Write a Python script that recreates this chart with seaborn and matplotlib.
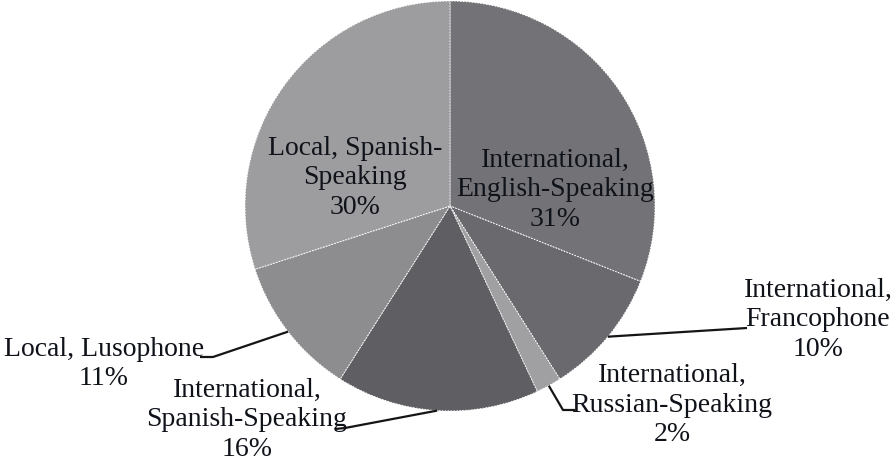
"""
plot.py

pie chart of participants by language group
"""

import numpy as np
import matplotlib
matplotlib.use("Agg")
import matplotlib.pyplot as plt
import seaborn as sns

# data
groups = ["International,\nEnglish-Speaking", "International,\nFrancophone",
          "International,\nRussian-Speaking", "International,\nSpanish-Speaking",
          "Local, Lusophone", "Local, Spanish-\nSpeaking"]
shares = [31, 10, 2, 16, 11, 30]
colors = ["#737377", "#6a6a6e", "#a0a0a3", "#5f5f63", "#8d8d90", "#9d9d9f"]

sns.set_theme(style="white")
plt.rcParams["font.family"] = ["Liberation Serif", "DejaVu Serif"]

fig = plt.figure(figsize=(8.96, 4.66), dpi=100)
ax = fig.add_axes([0, 0, 1, 1])

wedges, _ = ax.pie(shares, colors=colors, startangle=90, counterclock=False,
                   radius=1, wedgeprops=dict(edgecolor="white", linewidth=0.7,
                                             linestyle=(0, (1.5, 1.5))))

# pixel-based layout: pie centre at (450, 206), radius 205 px
R = 205.0
def px(x, y):
    return (x - 450) / R, (206 - y) / R

ax.set_xlim(-450 / R, (896 - 450) / R)
ax.set_ylim((206 - 466) / R, 206 / R)
ax.set_aspect("auto")
ax.axis("off")

# label positions (text centres, pixels)
label_pos = [(555, 190), (818, 320), (672, 405), (247, 420), (104, 364), (355, 178)]
# leader lines: extra points after the wedge edge (pixels), None = no leader
leaders = [None, [(747, 328)], [(563, 410), (575, 410)],
           [(345, 428), (335, 429)], [(213, 357), (200, 357)], None]

for w, name, val, pos, lead in zip(wedges, groups, shares, label_pos, leaders):
    tx, ty = px(*pos)
    ax.text(tx, ty, f"{name}\n{val}%", ha="center", va="center",
            fontsize=20, color="#10121a", linespacing=1.24, multialignment="center")
    if lead is not None:
        mid = np.deg2rad((w.theta1 + w.theta2) / 2)
        xs = [np.cos(mid)] + [px(*p)[0] for p in lead]
        ys = [np.sin(mid)] + [px(*p)[1] for p in lead]
        ax.plot(xs, ys, color="#151515", lw=1.6, solid_capstyle="butt")

fig.savefig("out.png", dpi=100)
